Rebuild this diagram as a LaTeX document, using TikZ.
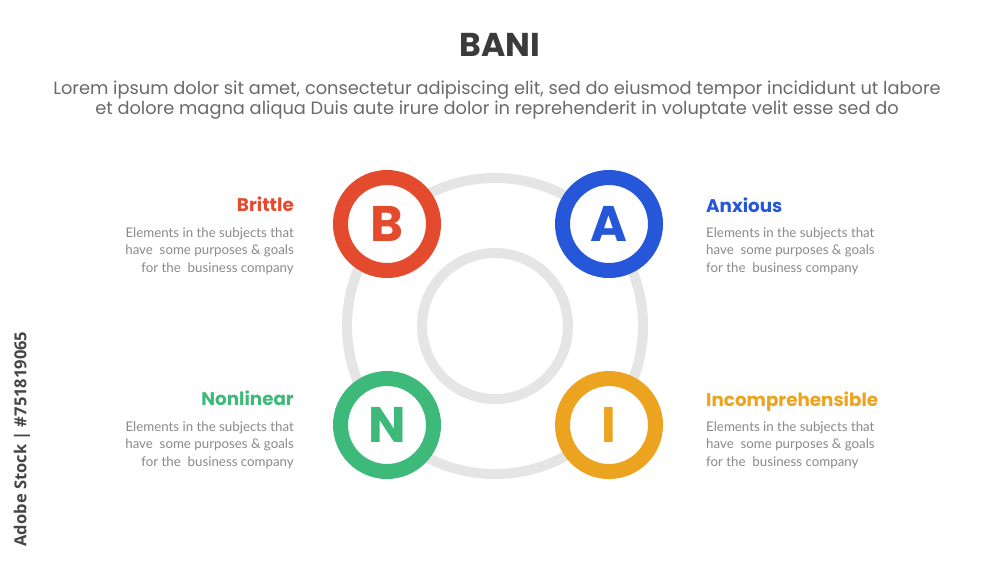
\documentclass[tikz,border=0pt]{standalone}
\usepackage{fontspec}
\setmainfont{Poppins}
\newfontfamily\latofont{Lato}
\newfontfamily\stockfont{Open Sans}
\usetikzlibrary{positioning}
\definecolor{bRed}{HTML}{E34A2E}
\definecolor{aBlue}{HTML}{2557D8}
\definecolor{nGreen}{HTML}{3DBA7A}
\definecolor{iOrange}{HTML}{ECA31F}
\definecolor{ringGray}{HTML}{E5E5E5}
\definecolor{titleGray}{HTML}{3B3B3B}
\definecolor{subGray}{HTML}{6A6A6A}
\definecolor{descGray}{HTML}{8A8A8A}
\definecolor{stockGray}{HTML}{454545}
\tikzset{
  ringline/.style={draw=ringGray, line width=10pt},
  lettercircle/.style={circle, draw=#1, fill=white, line width=15pt, minimum size=93pt,
    inner sep=0pt, text=#1, font=\fontsize{50}{50}\selectfont\bfseries},
  heading/.style={font=\fontsize{18.3}{20}\selectfont\bfseries, text=#1, inner sep=0pt},
  desc/.style={font=\latofont\fontsize{13.3}{17.5}\selectfont, text=descGray, inner sep=0pt},
}
\begin{document}
\begin{tikzpicture}[x=1pt,y=-1pt]
  \useasboundingbox[fill=white] (0,0) rectangle (1000,563);
  % Title
  \node[font=\fontsize{33}{33}\selectfont\bfseries, text=titleGray, inner sep=0pt] (title) at (500,45) {BANI};
  \node[font=\fontsize{17.8}{20}\selectfont, text=subGray, align=center, inner sep=0pt] (subtitle) at (497,100)
    {Lorem ipsum dolor sit amet, consectetur adipiscing elit, sed do eiusmod tempor incididunt ut labore\\
     et dolore magna aliqua Duis aute irure dolor in reprehenderit in voluptate velit esse sed do};
  % Rings
  \draw[ringline] (495,326) circle (148pt);
  \draw[ringline] (495,326) circle (73pt);
  % Letters
  \node[lettercircle=bRed] (b) at (387,224) {B};
  \node[lettercircle=aBlue] (a) at (609,224) {A};
  \node[lettercircle=nGreen] (n) at (387,425) {N};
  \node[lettercircle=iOrange] (i) at (609,425) {I};
  % Labels
  \node[heading=bRed, anchor=base east] (brittle) at (294,211) {Brittle};
  \node[desc, align=right, anchor=north east] (brittletext) at (294,227)
    {Elements in the subjects that\\have~ some purposes \& goals\\for the~ business company};
  \node[heading=aBlue, anchor=base west] (anxious) at (706,212) {Anxious};
  \node[desc, align=left, anchor=north west] (anxioustext) at (706,227)
    {Elements in the subjects that\\have~ some purposes \& goals\\for the~ business company};
  \node[heading=nGreen, anchor=base east] (nonlinear) at (294,405) {Nonlinear};
  \node[desc, align=right, anchor=north east] (nonlineartext) at (294,421)
    {Elements in the subjects that\\have~ some purposes \& goals\\for the~ business company};
  \node[heading=iOrange, anchor=base west] (incomp) at (706,406) {Incomprehensible};
  \node[desc, align=left, anchor=north west] (incomptext) at (706,421)
    {Elements in the subjects that\\have~ some purposes \& goals\\for the~ business company};
  % Stock mark
  \node[rotate=90, font=\stockfont\bfseries\fontsize{16.5}{16.5}\selectfont, text=stockGray, inner sep=0pt] (stock) at (22,439)
    {Adobe Stock | \#751819065};
\end{tikzpicture}
\end{document}
